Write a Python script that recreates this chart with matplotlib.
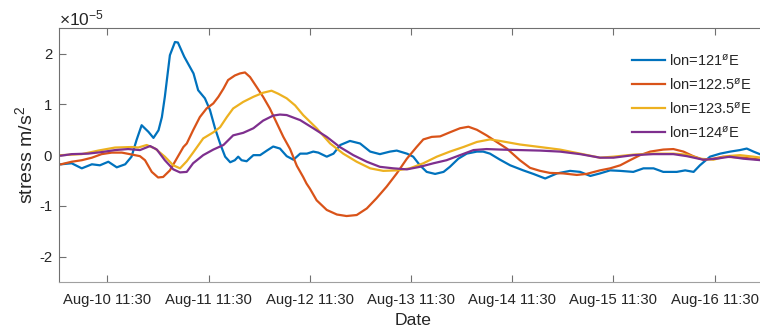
import matplotlib
matplotlib.use("Agg")
import matplotlib.pyplot as plt
import matplotlib.dates as mdates
import numpy as np
from datetime import datetime, timedelta

plt.rcParams["font.family"] = ["Liberation Sans", "DejaVu Sans"]
plt.rcParams["mathtext.fontset"] = "custom"
plt.rcParams["mathtext.rm"] = "Liberation Sans"
plt.rcParams["mathtext.it"] = "Liberation Sans"
plt.rcParams["mathtext.default"] = "regular"
plt.rcParams["axes.unicode_minus"] = False

START = datetime(2019, 8, 10, 0, 0)

# hours since Aug-10 00:00 and stress (x1e-5 m/s^2) for each longitude
hours_121 = [0.5, 3.0, 5.4, 7.8, 9.7, 11.7, 13.7, 15.7, 17.2, 18.4, 19.6, 21.2, 22.4, 23.6,
             24.4, 25.1, 26.3, 27.5, 28.2, 29.7, 31.9, 33.0, 34.6, 35.8, 37.0, 38.2, 39.4,
             40.6, 41.7, 42.5, 43.3, 44.5, 46.1, 47.7, 49.3, 50.8, 52.4, 54.0, 55.6, 57.2,
             58.8, 60.3, 61.5, 63.5, 65.1, 66.7, 69.0, 71.4, 73.8, 76.1, 78.5, 80.1, 82.5,
             84.0, 85.6, 87.2, 89.2, 91.2, 92.7, 94.7, 96.7, 99.1, 100.6, 102.2, 104.6,
             107.0, 110.1, 112.5, 115.3, 118.1, 121.2, 123.6, 126.0, 128.3, 130.7, 133.1,
             136.2, 138.6, 141.0, 143.3, 146.5, 148.5, 150.5, 152.0, 154.4, 156.8, 159.2,
             161.5, 163.1, 164.7, 166.5]
stress_121 = [-0.18, -0.16, -0.26, -0.18, -0.20, -0.13, -0.24, -0.18, -0.03, 0.30, 0.59, 0.46,
              0.34, 0.49, 0.75, 1.15, 1.97, 2.23, 2.22, 1.94, 1.61, 1.28, 1.12, 0.89, 0.53,
              0.23, -0.03, -0.14, -0.10, -0.03, -0.10, -0.12, 0.00, 0.00, 0.09, 0.17, 0.13,
              -0.02, -0.09, 0.03, 0.03, 0.07, 0.05, -0.03, 0.03, 0.20, 0.28, 0.23, 0.07, 0.02,
              0.07, 0.09, 0.03, -0.03, -0.20, -0.33, -0.37, -0.33, -0.23, -0.07, 0.03, 0.07,
              0.07, 0.03, -0.09, -0.20, -0.30, -0.37, -0.46, -0.36, -0.31, -0.33, -0.41,
              -0.36, -0.30, -0.31, -0.33, -0.26, -0.26, -0.33, -0.33, -0.30, -0.33, -0.20,
              -0.03, 0.03, 0.07, 0.10, 0.13, 0.07, 0.01]

hours_1225 = [0.5, 3.0, 5.4, 7.8, 10.1, 12.5, 14.9, 16.8, 19.2, 20.4, 22.0, 23.5, 24.7, 26.3,
              27.9, 29.5, 30.3, 31.8, 33.4, 35.0, 36.6, 37.8, 39.0, 40.1, 41.7, 42.9, 44.1,
              45.3, 46.9, 48.4, 50.0, 51.6, 53.2, 54.8, 56.4, 57.9, 58.7, 59.5, 61.1, 63.5,
              65.9, 68.2, 70.6, 73.0, 75.3, 77.7, 80.1, 82.5, 84.8, 86.4, 88.4, 90.4, 92.7,
              95.1, 97.1, 99.1, 101.4, 103.8, 106.2, 109.3, 111.7, 114.1, 116.4, 119.6,
              122.8, 125.1, 128.3, 130.7, 133.1, 135.4, 137.8, 140.2, 143.3, 145.7, 148.1,
              150.4, 152.8, 155.2, 157.5, 162.3, 166.5]
stress_1225 = [-0.18, -0.13, -0.10, -0.05, 0.02, 0.05, 0.05, 0.02, -0.02, -0.10, -0.33, -0.44,
               -0.43, -0.30, -0.07, 0.16, 0.23, 0.49, 0.75, 0.92, 1.02, 1.15, 1.31, 1.48, 1.57,
               1.61, 1.63, 1.54, 1.34, 1.15, 0.92, 0.64, 0.36, 0.12, -0.21, -0.43, -0.56,
               -0.66, -0.89, -1.08, -1.17, -1.20, -1.18, -1.05, -0.85, -0.62, -0.36, -0.07,
               0.16, 0.31, 0.36, 0.37, 0.45, 0.53, 0.56, 0.50, 0.39, 0.26, 0.13, -0.10, -0.25,
               -0.31, -0.35, -0.36, -0.39, -0.37, -0.30, -0.26, -0.20, -0.10, 0.00, 0.07, 0.11,
               0.12, 0.07, -0.02, -0.09, -0.07, -0.03, -0.05, -0.09]

hours_1235 = [0.5, 5.4, 9.3, 13.3, 17.2, 18.8, 20.8, 22.8, 25.1, 27.1, 28.7, 30.3, 31.8, 34.2,
              36.6, 38.2, 39.8, 41.3, 43.7, 46.1, 48.4, 50.4, 52.0, 54.0, 56.0, 57.9, 61.1,
              64.3, 67.4, 70.6, 73.8, 76.9, 80.1, 83.2, 86.4, 89.6, 92.7, 95.9, 99.1, 102.2,
              104.6, 109.3, 114.1, 118.8, 123.6, 128.3, 131.5, 136.2, 140.9, 145.7, 148.9,
              152.0, 155.2, 158.3, 161.5, 164.7, 166.5]
stress_1235 = [0.00, 0.02, 0.09, 0.15, 0.16, 0.15, 0.20, 0.13, -0.03, -0.20, -0.26, -0.12, 0.05,
               0.33, 0.45, 0.55, 0.75, 0.92, 1.05, 1.15, 1.23, 1.27, 1.21, 1.12, 0.98, 0.79,
               0.53, 0.23, 0.03, -0.13, -0.26, -0.31, -0.30, -0.26, -0.16, -0.03, 0.07, 0.16,
               0.26, 0.31, 0.28, 0.21, 0.16, 0.11, 0.03, -0.05, -0.03, 0.01, 0.03, 0.03, 0.01,
               -0.07, -0.09, -0.02, 0.00, -0.03, -0.05]

hours_124 = [0.5, 3.0, 6.9, 10.1, 13.3, 16.4, 19.2, 21.6, 23.2, 25.1, 27.1, 28.7, 30.3, 31.8,
             34.2, 36.6, 39.0, 41.3, 43.7, 46.1, 48.4, 50.8, 52.4, 54.0, 57.2, 60.3, 63.5,
             66.6, 69.8, 73.0, 76.1, 79.3, 82.5, 85.6, 88.8, 91.9, 95.1, 98.3, 101.4, 104.6,
             109.3, 114.1, 118.8, 123.6, 128.3, 131.5, 136.2, 140.9, 145.7, 148.9, 152.8,
             155.9, 159.1, 162.3, 166.5]
stress_124 = [-0.01, 0.02, 0.03, 0.06, 0.10, 0.12, 0.10, 0.18, 0.11, -0.10, -0.28, -0.34, -0.33,
              -0.16, 0.00, 0.11, 0.20, 0.39, 0.44, 0.53, 0.68, 0.78, 0.80, 0.79, 0.69, 0.53,
              0.36, 0.16, 0.00, -0.13, -0.23, -0.26, -0.28, -0.23, -0.16, -0.10, 0.00, 0.10,
              0.12, 0.11, 0.10, 0.09, 0.07, 0.02, -0.05, -0.05, 0.00, 0.02, 0.02, -0.02, -0.09,
              -0.07, -0.03, -0.07, -0.10]

series = [
    (hours_121, stress_121, "#0072BD", "lon=121$^{ø}$E"),
    (hours_1225, stress_1225, "#D95319", "lon=122.5$^{ø}$E"),
    (hours_1235, stress_1235, "#EDB120", "lon=123.5$^{ø}$E"),
    (hours_124, stress_124, "#7E2F8E", "lon=124$^{ø}$E"),
]

W, H = 760, 329
fig = plt.figure(figsize=(W / 100, H / 100), dpi=100)
x0, x1 = 59, 767.4
y0, y1 = 282, 28.3
ax = fig.add_axes([x0 / W, 1 - y0 / H, (x1 - x0) / W, (y0 - y1) / H])

for hrs, vals, color, label in series:
    t = [START + timedelta(hours=h) for h in hrs]
    ax.plot(t, vals, color=color, lw=1.6, label=label)

ax.set_xlim(START, START + timedelta(hours=168))
ax.set_ylim(-2.5, 2.5)
ax.set_yticks([-2, -1, 0, 1, 2])

ticks = [START + timedelta(days=d, hours=11, minutes=30) for d in range(7)]
ax.set_xticks(ticks)
ax.xaxis.set_major_formatter(mdates.DateFormatter("%b-%d %H:%M"))

spine_col = "#707070"
for s in ax.spines.values():
    s.set_color(spine_col)
    s.set_linewidth(0.8)
ax.spines["bottom"].set_color("#a0a0a0")
ax.tick_params(axis="both", direction="in", length=5, width=0.8, color=spine_col,
               labelsize=10.7, labelcolor="#262626", top=True, right=True)
ax.tick_params(axis="x", pad=8)
ax.tick_params(axis="y", pad=5)

ax.set_xlabel("Date", fontsize=12.6, color="#262626", labelpad=4)
ax.set_ylabel("stress m/s$^2$", fontsize=14, color="#262626", labelpad=2)

fig.text(59 / W, 1 - 25 / H, r"$\times10^{-5}$", fontsize=12.5, color="#262626",
         va="baseline", ha="left")

leg = ax.legend(loc="upper left", bbox_to_anchor=(625 / W, 1 - 45 / H),
                bbox_transform=fig.transFigure, frameon=False, fontsize=10.5,
                handlelength=2.25, handletextpad=0.3, labelspacing=0.55, borderpad=0)
for txt in leg.get_texts():
    txt.set_color("#262626")

fig.savefig("out.png", dpi=100)
